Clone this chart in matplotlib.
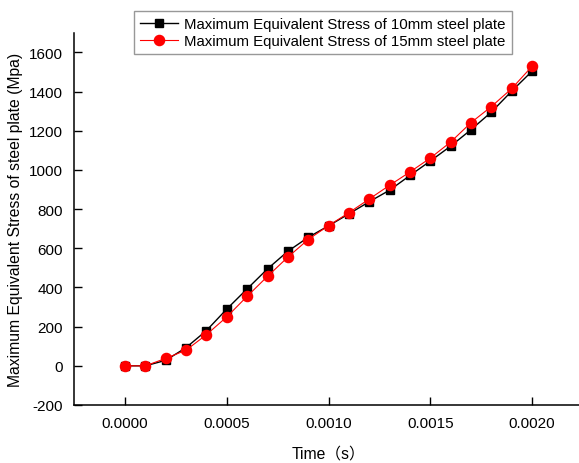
import matplotlib
matplotlib.use("Agg")
import matplotlib.pyplot as plt

time_s = [0.0000, 0.0001, 0.0002, 0.0003, 0.0004, 0.0005, 0.0006, 0.0007, 0.0008, 0.0009,
          0.0010, 0.0011, 0.0012, 0.0013, 0.0014, 0.0015, 0.0016, 0.0017, 0.0018, 0.0019, 0.0020]
stress_10mm = [0, 0, 28, 93, 180, 290, 393, 495, 585, 656,
               715, 776, 838, 897, 972, 1046, 1122, 1206, 1296, 1403, 1505]
stress_15mm = [0, 0, 38, 80, 159, 250, 355, 457, 555, 645,
               716, 782, 852, 922, 990, 1061, 1143, 1242, 1324, 1416, 1530]

label_10 = "Maximum Equivalent Stress of 10mm steel plate"
label_15 = "Maximum Equivalent Stress of 15mm steel plate"
xticks = [0.0, 0.0005, 0.0010, 0.0015, 0.0020]
xticklabels = ["0.0000", "0.0005", "0.0010", "0.0015", "0.0020"]
yticks = [-200, 0, 200, 400, 600, 800, 1000, 1200, 1400, 1600]

plt.rcParams['font.family'] = ['Liberation Sans', 'Noto Sans CJK SC', 'DejaVu Sans']
plt.rcParams['axes.unicode_minus'] = False

fig = plt.figure(figsize=(5.79, 4.64), dpi=100)
ax = fig.add_axes([0.128, 0.125, 0.879, 0.802])

ax.plot(time_s, stress_10mm, color='black', lw=1.0, marker='s', ms=5.8,
        mec='black', mfc='black', label=label_10)
ax.plot(time_s, stress_15mm, color='red', lw=0.8, marker='o', ms=7.3,
        mec='red', mfc='red', label=label_15)

ax.set_xlim(-0.00025, 0.00225)
ax.set_ylim(-200, 1700)
ax.set_xticks(xticks)
ax.set_xticklabels(xticklabels)
ax.set_yticks(yticks)

for s in ['top', 'right']:
    ax.spines[s].set_visible(False)
for s in ['left', 'bottom']:
    ax.spines[s].set_linewidth(1.1)

ax.tick_params(direction='in', length=6, width=1.0, labelsize=11)
ax.tick_params(axis='y', pad=8)
ax.tick_params(axis='x', pad=8)

ax.set_xlabel("Time（s）", fontsize=11.3, labelpad=11)
ax.set_ylabel("Maximum Equivalent Stress of steel plate (Mpa)", fontsize=11.3, labelpad=4)

leg = ax.legend(loc='upper left', bbox_to_anchor=(0.118, 1.060), fontsize=10.8,
                frameon=True, fancybox=False, edgecolor='#7f7f7f',
                handlelength=2.5, borderpad=0.42, labelspacing=0.2, handletextpad=0.4,
                borderaxespad=0)
leg.get_frame().set_linewidth(1.0)

fig.savefig("out.png", dpi=100)
